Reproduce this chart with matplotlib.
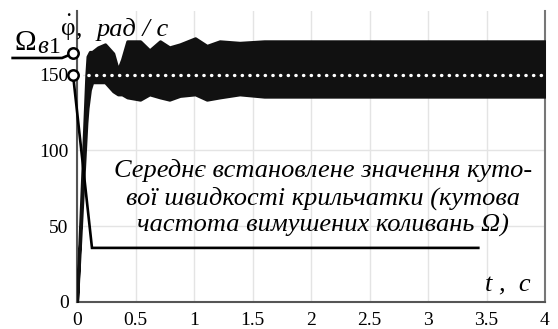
import matplotlib
matplotlib.use("Agg")
import matplotlib.pyplot as plt
import numpy as np

plt.rcParams['font.family'] = ['Liberation Serif', 'DejaVu Serif']

# ---- data ----
t_env = [0, 0.08, 0.09, 0.11, 0.13, 0.18, 0.24, 0.31, 0.35, 0.385, 0.43, 0.54,
         0.62, 0.71, 0.79, 0.88, 1.01, 1.11, 1.22, 1.39, 1.6, 2.0, 2.5, 3.0, 3.5, 4.0]
upper = [0, 150, 162, 165, 165, 168, 170, 164, 153, 160, 172, 172,
         166, 172, 168, 170, 174, 169, 172, 171, 172, 172, 172, 172, 172, 172]
lower = [0, 118, 128, 140, 145, 145, 145, 139, 137, 137, 135, 133.5,
         137, 135, 133.5, 136, 137, 133.5, 135, 137, 135.5, 135.5, 135.5, 135.5, 135.5, 135.5]
mean_value = 150
omega_v1 = 164
x_ticks = [0, 0.5, 1, 1.5, 2, 2.5, 3, 3.5, 4]
x_tick_labels = ['0', '0.5', '1', '1.5', '2', '2.5', '3', '3.5', '4']
y_ticks = [0, 50, 100, 150]
y_tick_labels = ['0', '50', '100', '150']
note = "Середнє встановлене значення куто-\nвої швидкості крильчатки (кутова\nчастота вимушених коливань Ω)"

W, H = 558, 329
fig = plt.figure(figsize=(W / 100, H / 100), dpi=100)
ax = fig.add_axes([77 / W, 27 / H, 468 / W, 291 / H])
ax.set_xlim(0, 4)
ax.set_ylim(0, 192)

ax.set_xticks(x_ticks)
ax.set_xticklabels(x_tick_labels)
ax.set_yticks(y_ticks)
ax.set_yticklabels(y_tick_labels)
ax.tick_params(length=0, labelsize=14, pad=6)
ax.tick_params(axis='x', pad=7.5)
ax.grid(True, color='#e4e4e4', lw=1)
ax.set_axisbelow(True)
for s in ['left', 'bottom']:
    ax.spines[s].set_color('#555555')
    ax.spines[s].set_linewidth(1.5)
ax.spines['right'].set_color('#777777')
ax.spines['right'].set_linewidth(1.5)
ax.spines['top'].set_visible(False)

# oscillation band
ax.fill_between(t_env, lower, upper, color='#111111', lw=2.2, edgecolor='#111111', zorder=3)

# mean value dotted line
ax.plot([-0.034, 3.97], [mean_value, mean_value], color='white', lw=2.4,
        linestyle=(0, (0.1, 2.2)), dash_capstyle='round', zorder=4, clip_on=False)

# callout to mean value box
ax.plot([-0.034, 0.128, 3.43], [mean_value, 35.7, 35.7], color='black', lw=1.9,
        zorder=5, clip_on=False, solid_joinstyle='miter')
# Omega_v1 underline
ax.plot([-0.034, -0.128, -0.55], [omega_v1, 161, 161], color='black', lw=1.9,
        zorder=5, clip_on=False)
# circles
ax.plot([-0.034, -0.034], [omega_v1, mean_value], linestyle='none', marker='o', ms=7.5,
        mfc='white', mec='black', mew=1.8, zorder=6, clip_on=False)

# annotation text
ax.text(2.1, 68.5, note, ha='center', va='center', fontsize=19, style='italic',
        linespacing=1.25, zorder=7)

# axis labels
fig.text(14 / W, 1 - 50 / H, "Ω", fontsize=21, ha='left', va='baseline')
fig.text(37 / W, 1 - 53 / H, "в", fontsize=18, style='italic', ha='left', va='baseline')
fig.text(49 / W, 1 - 53 / H, "1", fontsize=17, ha='left', va='baseline')

fig.text(61 / W, 1 - 35 / H, "φ", fontsize=18, ha='left', va='baseline')
fig.text(68 / W, 1 - 30 / H, "˙", fontsize=18, ha='center', va='baseline')
fig.text(76 / W, 1 - 35 / H, ",", fontsize=18, ha='left', va='baseline')
fig.text(97 / W, 1 - 36 / H, "рад / с", fontsize=19, style='italic', ha='left', va='baseline')

fig.text(485 / W, 1 - 291 / H, "t ,  c", fontsize=19, style='italic', ha='left', va='baseline')

fig.savefig("out.png", dpi=100)
